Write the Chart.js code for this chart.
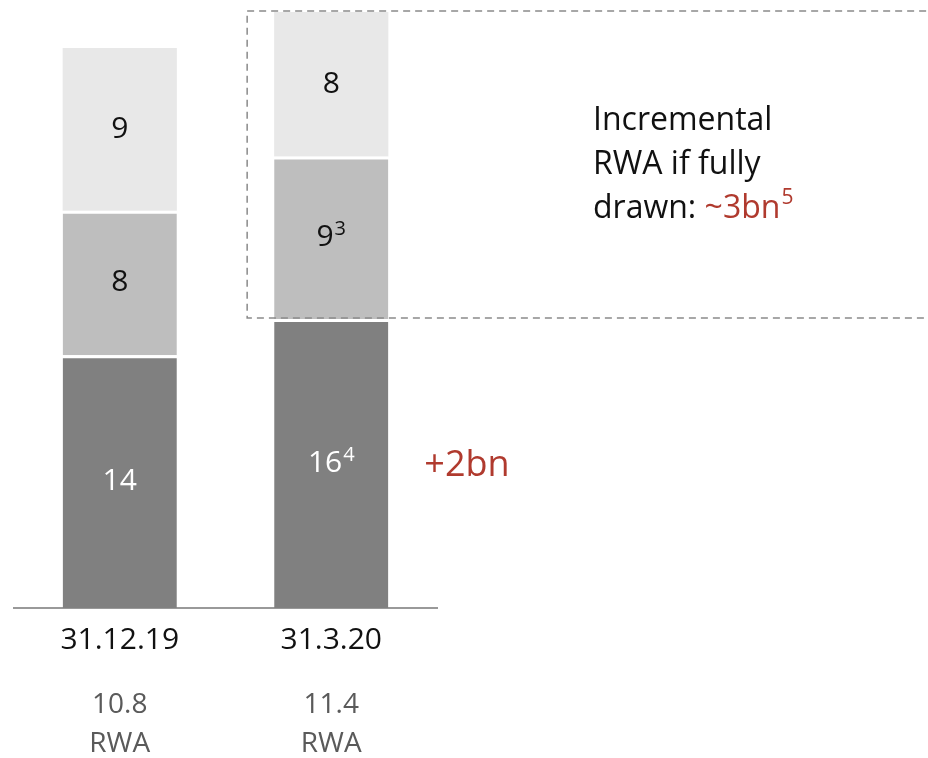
<!DOCTYPE html>
<html>
<head>
<meta charset="utf-8">
<script src="https://cdn.jsdelivr.net/npm/chart.js@4"></script>
<style>
  html, body { margin: 0; padding: 0; background: #fff; }
  #wrap { width: 928px; height: 758px; }
</style>
</head>
<body>
<div id="wrap"><canvas id="rwaChart"></canvas></div>
<script>
const categories = ['31.12.19', '31.3.20'];
const baseValues = [14, 16];
const middleValues = [8, 9];
const topValues = [9, 8];
const baseNotes = ['', '4'];
const middleNotes = ['', '3'];
const topNotes = ['', ''];
const rwaValues = ['10.8', '11.4'];

const FONT = "'Open Sans', 'Noto Sans', sans-serif";
const RED = '#b03a2e';

// text with an optional raised footnote marker, centred on x
function drawSup(ctx, text, note, x, y, size, color) {
    ctx.save();
    ctx.fillStyle = color;
    ctx.textBaseline = 'middle';
    ctx.textAlign = 'left';
    ctx.font = size + 'px ' + FONT;
    const w = ctx.measureText(text).width;
    const noteSize = Math.round(size * 0.65);
    ctx.font = noteSize + 'px ' + FONT;
    const nw = note ? ctx.measureText(note).width + 1 : 0;
    const left = x - (w + nw) / 2;
    ctx.font = size + 'px ' + FONT;
    ctx.fillText(text, left, y);
    if (note) {
        ctx.font = noteSize + 'px ' + FONT;
        ctx.fillText(note, left + w + 1, y - size * 0.28);
    }
    ctx.restore();
}

const segmentLabels = {
    id: 'segmentLabels',
    afterDatasetsDraw(chart) {
        const ctx = chart.ctx;
        chart.data.datasets.forEach((ds, i) => {
            const meta = chart.getDatasetMeta(i);
            meta.data.forEach((bar, j) => {
                const cy = (bar.y + bar.base) / 2;
                drawSup(ctx, String(ds.data[j]), ds.notes[j], bar.x, cy, 30, ds.labelColor);
            });
        });
    }
};

const annotations = {
    id: 'annotations',
    afterDraw(chart) {
        const ctx = chart.ctx;
        const y = chart.scales.y;
        const bars = chart.getDatasetMeta(0).data;
        const bar2 = bars[1];

        // dashed box round the undrawn part of the second bar
        const boxLeft = bar2.x - bar2.width / 2 - 27;
        const boxTop = chart.chartArea.top - 1;
        const boxBottom = y.getPixelForValue(baseValues[1]) - 1;
        ctx.save();
        ctx.strokeStyle = '#8a8a8a';
        ctx.lineWidth = 1.5;
        ctx.setLineDash([7, 5]);
        ctx.strokeRect(boxLeft, boxTop, chart.width + 20 - boxLeft, boxBottom - boxTop);
        ctx.restore();

        // note inside the box
        ctx.save();
        ctx.font = '32px ' + FONT;
        ctx.fillStyle = '#111';
        ctx.textBaseline = 'alphabetic';
        ctx.textAlign = 'left';
        const tx = 593;
        ctx.fillText('Incremental', tx, 130);
        ctx.fillText('RWA if fully', tx, 174);
        const lead = 'drawn: ';
        ctx.fillText(lead, tx, 218);
        const lw = ctx.measureText(lead).width;
        ctx.fillStyle = RED;
        ctx.fillText('~3bn', tx + lw, 218);
        const aw = ctx.measureText('~3bn').width;
        ctx.font = '21px ' + FONT;
        ctx.fillText('5', tx + lw + aw + 1, 204);
        ctx.restore();

        // change in the drawn amount
        const darkMid = (bar2.y + bar2.base) / 2;
        ctx.save();
        ctx.font = '36px ' + FONT;
        ctx.fillStyle = RED;
        ctx.textBaseline = 'middle';
        ctx.textAlign = 'left';
        ctx.fillText('+2bn', bar2.x + bar2.width / 2 + 36, darkMid + 2);
        ctx.restore();

        // RWA totals under the dates
        ctx.save();
        ctx.font = '28px ' + FONT;
        ctx.fillStyle = '#5a5a5a';
        ctx.textAlign = 'center';
        ctx.textBaseline = 'middle';
        bars.forEach((b, j) => {
            ctx.fillText(rwaValues[j], b.x, 705);
            ctx.fillText('RWA', b.x, 744);
        });
        ctx.restore();
    }
};

const ctx = document.getElementById('rwaChart').getContext('2d');
new Chart(ctx, {
    type: 'bar',
    data: {
        labels: categories,
        datasets: [
            {
                data: baseValues,
                notes: baseNotes,
                labelColor: '#ffffff',
                backgroundColor: '#808080',
                borderColor: '#ffffff',
                borderWidth: { top: 3, left: 0, right: 0, bottom: 0 },
                borderSkipped: false
            },
            {
                data: middleValues,
                notes: middleNotes,
                labelColor: '#111111',
                backgroundColor: '#bebebe',
                borderColor: '#ffffff',
                borderWidth: { top: 3, left: 0, right: 0, bottom: 0 },
                borderSkipped: false
            },
            {
                data: topValues,
                notes: topNotes,
                labelColor: '#111111',
                backgroundColor: '#e8e8e8',
                borderWidth: 0
            }
        ]
    },
    options: {
        responsive: true,
        maintainAspectRatio: false,
        animation: false,
        layout: { padding: { left: 14, right: 491, top: 12, bottom: 94 } },
        datasets: { bar: { barPercentage: 0.54, categoryPercentage: 1 } },
        plugins: {
            legend: { display: false },
            tooltip: { enabled: false }
        },
        scales: {
            x: {
                stacked: true,
                grid: { display: false },
                border: { display: true, color: '#999999', width: 2 },
                ticks: {
                    color: '#111',
                    padding: 6,
                    font: { family: FONT, size: 30 }
                }
            },
            y: {
                stacked: true,
                display: false,
                min: 0,
                max: 33
            }
        }
    },
    plugins: [segmentLabels, annotations]
});
</script>
</body>
</html>
